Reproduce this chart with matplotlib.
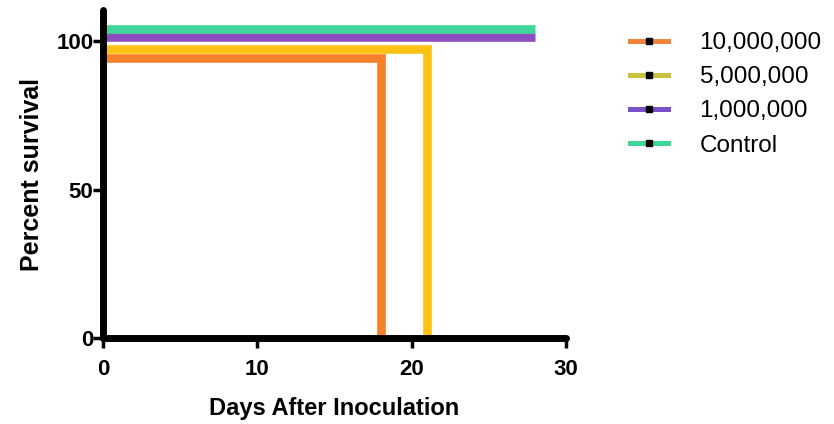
import matplotlib
matplotlib.use("Agg")
import matplotlib.pyplot as plt
from matplotlib.lines import Line2D

# ---------------------------------------------------------------------------------------------------------------------
# DATA (Kaplan-Meier style survival)
# ---------------------------------------------------------------------------------------------------------------------
GROUPS = ['10,000,000', '5,000,000', '1,000,000', 'Control']
DAYS = {
    '10,000,000': [0, 18, 28],
    '5,000,000': [0, 21, 28],
    '1,000,000': [0, 28],
    'Control': [0, 28],
}
SURVIVAL = {
    '10,000,000': [100, 0, 0],
    '5,000,000': [100, 0, 0],
    '1,000,000': [100, 100],
    'Control': [100, 100],
}
X_TICKS = [0, 10, 20, 30]
Y_TICKS = [0, 50, 100]

# styling: colours and the small vertical nudge so overlapping lines stay visible
COLORS = {'10,000,000': '#F8802A', '5,000,000': '#FDC213', '1,000,000': '#8E4DBE', 'Control': '#3FD69A'}
LEGEND_COLORS = {'10,000,000': '#F0843A', '5,000,000': '#C9C23C', '1,000,000': '#7A4FC8', 'Control': '#3FD69A'}
NUDGE = {'10,000,000': -5.5, '5,000,000': -2.5, '1,000,000': 1.4, 'Control': 4.2}


def main():
    fig = plt.figure(figsize=(8.34, 4.24), dpi=100)
    ax = fig.add_axes([0.1235, 0.2028, 0.555, 0.7736])

    for name in GROUPS:
        y = [v + NUDGE[name] for v in SURVIVAL[name]]
        ax.plot(DAYS[name], y, drawstyle='steps-post', color=COLORS[name], lw=6.2,
                solid_capstyle='butt', solid_joinstyle='miter', zorder=2)

    ax.set_xlim(0, 30)
    ax.set_ylim(0, 110.5)
    ax.set_xticks(X_TICKS)
    ax.set_yticks(Y_TICKS)

    for side in ['top', 'right']:
        ax.spines[side].set_visible(False)
    for side in ['left', 'bottom']:
        ax.spines[side].set_linewidth(5)
        ax.spines[side].set_capstyle('round')
        ax.spines[side].set_zorder(5)

    ax.tick_params(length=7, width=2.5, labelsize=16)
    ax.tick_params(axis='x', pad=8)
    ax.tick_params(axis='y', pad=0)
    for lbl in ax.get_xticklabels() + ax.get_yticklabels():
        lbl.set_fontfamily('Liberation Sans')
        lbl.set_fontweight('bold')

    ax.set_xlabel('Days After Inoculation', fontsize=17, fontweight='bold', family='Liberation Sans', labelpad=12)
    ax.set_ylabel('Percent survival', fontsize=18, fontweight='bold', family='Liberation Sans', labelpad=9)

    handles = [Line2D([0], [0], color=LEGEND_COLORS[n], lw=3.6, marker='s', markersize=4,
                      markerfacecolor='black', markeredgecolor='black') for n in GROUPS]
    fig.legend(handles, GROUPS, loc='upper left', bbox_to_anchor=(630 / 834, 1 - 32 / 424), frameon=False,
               borderpad=0, borderaxespad=0, handlelength=1.56, handletextpad=1.3, labelspacing=0.5,
               prop={'family': 'Liberation Sans', 'size': 17.5})

    fig.savefig('out.png', dpi=100)


if __name__ == "__main__":
    main()
